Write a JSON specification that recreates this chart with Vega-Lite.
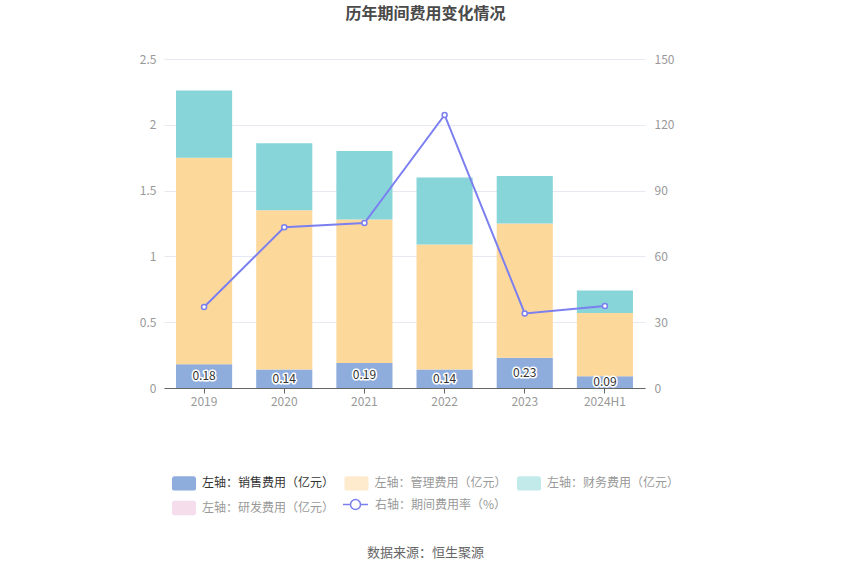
{
  "$schema": "https://vega.github.io/schema/vega-lite/v6.json",
  "width": 481,
  "height": 329,
  "autosize": {"type": "none"},
  "padding": {"left": 164, "top": 59, "right": 205, "bottom": 187},
  "background": "white",
  "config": {"font": "Noto Sans CJK SC", "view": {"stroke": null}},
  "title": {"text": "历年期间费用变化情况", "anchor": "middle", "frame": "group", "dx": 21, "offset": 31, "fontSize": 16, "fontWeight": "bold", "color": "#4a4a4a"},
  "datasets": {
    "bars": [
      {"year": "2019", "type": "左轴：销售费用（亿元）", "value": 0.18},
      {"year": "2020", "type": "左轴：销售费用（亿元）", "value": 0.14},
      {"year": "2021", "type": "左轴：销售费用（亿元）", "value": 0.19},
      {"year": "2022", "type": "左轴：销售费用（亿元）", "value": 0.14},
      {"year": "2023", "type": "左轴：销售费用（亿元）", "value": 0.23},
      {"year": "2024H1", "type": "左轴：销售费用（亿元）", "value": 0.09},
      {"year": "2019", "type": "左轴：管理费用（亿元）", "value": 1.57},
      {"year": "2020", "type": "左轴：管理费用（亿元）", "value": 1.21},
      {"year": "2021", "type": "左轴：管理费用（亿元）", "value": 1.09},
      {"year": "2022", "type": "左轴：管理费用（亿元）", "value": 0.95},
      {"year": "2023", "type": "左轴：管理费用（亿元）", "value": 1.02},
      {"year": "2024H1", "type": "左轴：管理费用（亿元）", "value": 0.48},
      {"year": "2019", "type": "左轴：财务费用（亿元）", "value": 0.51},
      {"year": "2020", "type": "左轴：财务费用（亿元）", "value": 0.51},
      {"year": "2021", "type": "左轴：财务费用（亿元）", "value": 0.52},
      {"year": "2022", "type": "左轴：财务费用（亿元）", "value": 0.51},
      {"year": "2023", "type": "左轴：财务费用（亿元）", "value": 0.36},
      {"year": "2024H1", "type": "左轴：财务费用（亿元）", "value": 0.17},
      {"year": "2019", "type": "左轴：研发费用（亿元）", "value": 0},
      {"year": "2020", "type": "左轴：研发费用（亿元）", "value": 0},
      {"year": "2021", "type": "左轴：研发费用（亿元）", "value": 0},
      {"year": "2022", "type": "左轴：研发费用（亿元）", "value": 0},
      {"year": "2023", "type": "左轴：研发费用（亿元）", "value": 0},
      {"year": "2024H1", "type": "左轴：研发费用（亿元）", "value": 0}
    ],
    "rate": [
      {"year": "2019", "rate": 36.9},
      {"year": "2020", "rate": 73.3},
      {"year": "2021", "rate": 75.2},
      {"year": "2022", "rate": 124.5},
      {"year": "2023", "rate": 34.0},
      {"year": "2024H1", "rate": 37.4}
    ]
  },
  "encoding": {
    "x": {
      "field": "year", "type": "ordinal", "sort": null,
      "scale": {"paddingInner": 0.3, "paddingOuter": 0.15},
      "axis": {
        "labelAngle": 0, "labelColor": "#999", "labelFontSize": 12, "labelPadding": 3,
        "domainColor": "#666", "tickColor": "#666", "tickSize": 5,
        "title": "数据来源：恒生聚源", "titleX": 261, "titleY": 158, "titleColor": "#666",
        "titleFontSize": 13, "titleFontWeight": "normal"
      }
    }
  },
  "layer": [
    {
      "data": {"name": "bars"},
      "layer": [
        {
          "transform": [{"calculate": "indexof(['左轴：销售费用（亿元）', '左轴：管理费用（亿元）', '左轴：财务费用（亿元）', '左轴：研发费用（亿元）'], datum.type)", "as": "k"}],
          "mark": {"type": "bar"},
          "encoding": {
            "y": {
              "field": "value", "type": "quantitative", "stack": "zero",
              "scale": {"domain": [0, 2.5], "nice": false},
              "axis": {"values": [0, 0.5, 1, 1.5, 2, 2.5], "format": "~g", "grid": true, "gridColor": "#e6e9f1",
                       "domain": false, "ticks": false, "labelColor": "#999", "labelFontSize": 12, "labelPadding": 8, "title": null}
            },
            "order": {"field": "k", "type": "quantitative", "sort": "ascending"},
            "color": {
              "field": "type", "type": "nominal", "sort": null,
              "scale": {
                "domain": ["左轴：销售费用（亿元）", "左轴：管理费用（亿元）", "左轴：财务费用（亿元）", "左轴：研发费用（亿元）"],
                "range": ["#8eacdc", "#fdd89b", "#87d5d8", "#ebbbd7"]
              },
              "legend": {
                "orient": "none", "legendX": 8, "legendY": 412, "columns": 3, "direction": "horizontal", "title": null,
                "values": ["左轴：销售费用（亿元）", "左轴：管理费用（亿元）", "左轴：财务费用（亿元）", "左轴：研发费用（亿元）"],
                "symbolType": "M-0.8,-0.6H0.8A0.2,0.2 0 0 1 1,-0.4V0.4A0.2,0.2 0 0 1 0.8,0.6H-0.8A0.2,0.2 0 0 1 -1,0.4V-0.4A0.2,0.2 0 0 1 -0.8,-0.6Z",
                "symbolSize": 576, "symbolStrokeWidth": 0, "labelFontSize": 12, "labelColor": "#999",
                "columnPadding": 8.5, "rowPadding": 5, "labelOffset": 6, "labelLimit": 300,
                "encode": {
                  "symbols": {"update": {"fillOpacity": [{"test": "datum.value === '左轴：销售费用（亿元）'", "value": 1}, {"value": 0.5}]}},
                  "labels": {"update": {"fill": [{"test": "datum.value === '左轴：销售费用（亿元）'", "value": "#333"}, {"value": "#999"}]}}
                }
              }
            }
          }
        },
        {
          "transform": [{"filter": "datum.type === '左轴：销售费用（亿元）'"}, {"calculate": "datum.value / 2", "as": "mid"}],
          "mark": {"type": "text", "fontSize": 12, "stroke": "white", "strokeWidth": 3, "strokeJoin": "round", "fill": "white"},
          "encoding": {
            "y": {"field": "mid", "type": "quantitative", "title": null},
            "text": {"field": "value", "type": "quantitative", "format": ".2f"}
          }
        },
        {
          "transform": [{"filter": "datum.type === '左轴：销售费用（亿元）'"}, {"calculate": "datum.value / 2", "as": "mid"}],
          "mark": {"type": "text", "fontSize": 12, "fill": "#333"},
          "encoding": {
            "y": {"field": "mid", "type": "quantitative", "title": null},
            "text": {"field": "value", "type": "quantitative", "format": ".2f"}
          }
        }
      ]
    },
    {
      "data": {"name": "rate"},
      "layer": [
        {
          "mark": {"type": "line", "strokeWidth": 2},
          "encoding": {
            "y": {
              "field": "rate", "type": "quantitative", "scale": {"domain": [0, 150], "nice": false},
              "axis": {"orient": "right", "values": [0, 30, 60, 90, 120, 150], "grid": false, "domain": false, "ticks": false,
                       "labelColor": "#999", "labelFontSize": 12, "labelPadding": 9, "title": null}
            },
            "stroke": {
              "datum": "右轴：期间费用率（%）", "type": "nominal",
              "scale": {"range": ["#7b7ff0"]},
              "legend": {
                "orient": "none", "legendX": 178, "legendY": 432, "title": null,
                "symbolType": "M-1,0H-0.4M0.4,0H1M-0.4,0A0.4,0.4 0 1 1 0.4,0A0.4,0.4 0 1 1 -0.4,0",
                "symbolSize": 625, "symbolStrokeWidth": 1.5, "symbolFillColor": "white", "symbolStrokeColor": "#7b7ff0",
                "labelFontSize": 12, "labelColor": "#999", "labelOffset": 6, "labelLimit": 300
              }
            }
          }
        },
        {
          "mark": {"type": "point", "filled": true, "fill": "white", "stroke": "#7b7ff0", "strokeWidth": 1.5, "size": 25, "opacity": 1},
          "encoding": {
            "y": {"field": "rate", "type": "quantitative"}
          }
        }
      ]
    }
  ],
  "resolve": {"scale": {"y": "independent"}}
}
